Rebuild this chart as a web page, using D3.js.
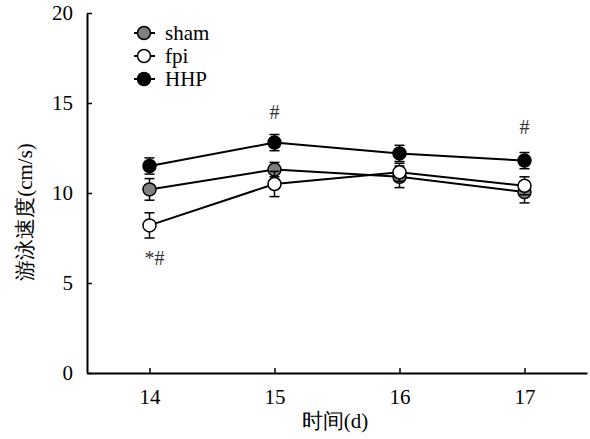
<!DOCTYPE html>
<html>
<head>
<meta charset="utf-8">
<script src="https://cdn.jsdelivr.net/npm/d3@7"></script>
<style>
  body { margin: 0; background: #fff; }
  svg { display: block; }
</style>
</head>
<body>
<svg id="chart"></svg>
<script>
// values
const days = [14, 15, 16, 17];
const yTicks = [0, 5, 10, 15, 20];

const shamVals = [10.2, 11.3, 10.9, 10.05];
const shamErr = [0.6, 0.4, 0.6, 0.6];
const fpiVals = [8.2, 10.5, 11.15, 10.4];
const fpiErr = [0.7, 0.7, 0.5, 0.5];
const hhpVals = [11.5, 12.8, 12.2, 11.8];
const hhpErr = [0.45, 0.45, 0.45, 0.45];

const groupNames = ["sham", "fpi", "HHP"];
const groupFills = ["#7f7f7f", "#ffffff", "#000000"];

// significance marks: [day, value at baseline, text]
const marks = [[14, 6.0, "*#"], [15, 14.1, "#"], [17, 13.3, "#"]];

const width = 590, height = 439;
const font = "'Liberation Serif', 'Times New Roman', serif";

const svg = d3.select("#chart")
  .attr("width", width)
  .attr("height", height)
  .attr("viewBox", [0, 0, width, height]);

const x = d3.scaleLinear().domain([13.5, 17.5]).range([87, 587]);
const y = d3.scaleLinear().domain([0, 20]).range([373, 13]);

// axes, ticks pointing inward
const yAxis = svg.append("g")
  .attr("transform", `translate(${x(13.5)},0)`)
  .call(d3.axisLeft(y).tickValues(yTicks).tickSizeInner(-5).tickSizeOuter(0).tickPadding(14));

const xAxis = svg.append("g")
  .attr("transform", `translate(0,${y(0)})`)
  .call(d3.axisBottom(x).tickValues(days).tickFormat(d3.format("d"))
    .tickSizeInner(-5).tickSizeOuter(0).tickPadding(16));

[yAxis, xAxis].forEach(g => {
  g.select(".domain").attr("stroke", "#000").attr("stroke-width", 2);
  g.selectAll(".tick line").attr("stroke", "#000").attr("stroke-width", 1.5);
  g.selectAll(".tick text")
    .attr("fill", "#000")
    .style("font-family", font)
    .style("font-size", "21px");
});

// axis titles
svg.append("text")
  .attr("x", 335)
  .attr("y", 428)
  .attr("text-anchor", "middle")
  .style("font-family", font)
  .style("font-size", "21px")
  .text("时间(d)");

svg.append("text")
  .attr("transform", "translate(32,212) rotate(-90)")
  .attr("text-anchor", "middle")
  .style("font-family", font)
  .style("font-size", "21px")
  .text("游泳速度(cm/s)");

const series = [
  { name: "sham", vals: shamVals, err: shamErr },
  { name: "fpi", vals: fpiVals, err: fpiErr },
  { name: "HHP", vals: hhpVals, err: hhpErr }
].map((s, i) => ({
  ...s,
  fill: groupFills[i],
  pts: days.map((d, j) => ({ day: d, v: s.vals[j], e: s.err[j] }))
}));

const line = d3.line().x(d => x(d.day)).y(d => y(d.v));

// lines under every marker
svg.append("g")
  .selectAll("path")
  .data(series)
  .join("path")
    .attr("fill", "none")
    .attr("stroke", "#000")
    .attr("stroke-width", 2)
    .attr("d", d => line(d.pts));

const r = 6.5, cap = 5;

series.forEach(s => {
  const g = svg.append("g");
  const eb = g.selectAll("g.err")
    .data(s.pts)
    .join("g")
      .attr("stroke", "#000")
      .attr("stroke-width", 1.5);
  eb.append("line")
    .attr("x1", d => x(d.day)).attr("x2", d => x(d.day))
    .attr("y1", d => y(d.v + d.e)).attr("y2", d => y(d.v - d.e));
  eb.append("line")
    .attr("x1", d => x(d.day) - cap).attr("x2", d => x(d.day) + cap)
    .attr("y1", d => y(d.v + d.e)).attr("y2", d => y(d.v + d.e));
  eb.append("line")
    .attr("x1", d => x(d.day) - cap).attr("x2", d => x(d.day) + cap)
    .attr("y1", d => y(d.v - d.e)).attr("y2", d => y(d.v - d.e));

  g.selectAll("circle")
    .data(s.pts)
    .join("circle")
      .attr("cx", d => x(d.day))
      .attr("cy", d => y(d.v))
      .attr("r", r)
      .attr("fill", s.fill)
      .attr("stroke", "#000")
      .attr("stroke-width", 1.5);
});

// significance marks
svg.append("g")
  .selectAll("text")
  .data(marks)
  .join("text")
    .attr("x", d => x(d[0]) + (d[2].length > 1 ? 5 : 0))
    .attr("y", d => y(d[1]))
    .attr("text-anchor", "middle")
    .style("font-family", font)
    .style("font-size", "20px")
    .attr("fill", "#333")
    .text(d => d[2]);

// legend
const legend = svg.append("g")
  .selectAll("g")
  .data(groupNames)
  .join("g")
    .attr("transform", (d, i) => `translate(144,${33 + i * 23})`);

legend.append("line")
  .attr("x1", -10).attr("x2", 11)
  .attr("stroke", "#000").attr("stroke-width", 2);
legend.append("circle")
  .attr("r", r)
  .attr("fill", (d, i) => groupFills[i])
  .attr("stroke", "#000")
  .attr("stroke-width", 1.5);
legend.append("text")
  .attr("x", 21)
  .attr("dy", "0.33em")
  .style("font-family", font)
  .style("font-size", "21px")
  .text(d => d);
</script>
</body>
</html>
